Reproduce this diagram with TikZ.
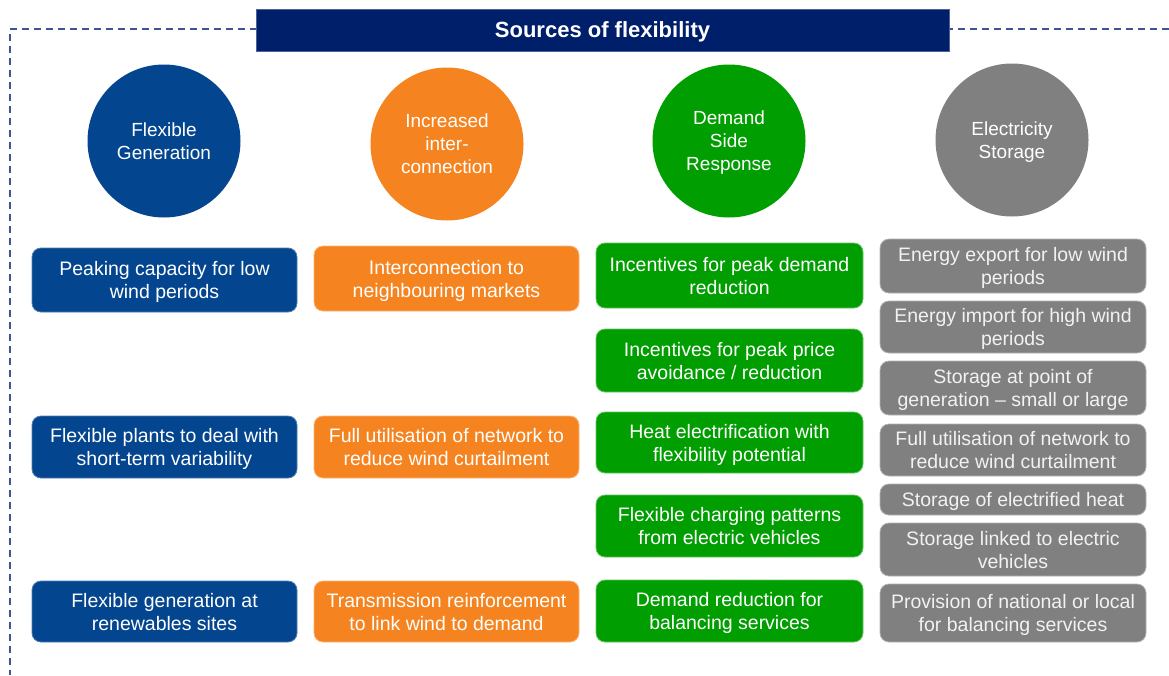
\documentclass[tikz,border=0pt]{standalone}
\usepackage{fontspec}
\setmainfont{Liberation Sans}
\definecolor{navy}{RGB}{0,31,107}
\definecolor{fblue}{RGB}{3,69,143}
\definecolor{forange}{RGB}{245,132,32}
\definecolor{fgreen}{RGB}{0,158,0}
\definecolor{fgrey}{RGB}{128,128,128}
\definecolor{dashc}{RGB}{64,82,152}
\tikzset{
  circ/.style={circle, minimum size=153pt, inner sep=0pt, text=white, align=center,
    font=\fontsize{19pt}{23pt}\selectfont, text depth=0pt},
  item/.style={rounded corners=9pt, minimum width=265pt, inner sep=0pt, text=white, align=center,
    font=\fontsize{19.5pt}{23pt}\selectfont, line width=0.8pt, text depth=0pt},
  bl/.style={item, fill=fblue, draw=fblue!70!white},
  org/.style={item, fill=forange, draw=forange!60!white},
  grn/.style={item, fill=fgreen, draw=fgreen!60!white, minimum width=267pt},
  gry/.style={item, fill=fgrey, draw=fgrey!60!white, minimum width=266pt, text=white!95!black},
}
\begin{document}
\begin{tikzpicture}[x=1pt,y=-1pt]
\useasboundingbox (0,0) rectangle (1169,675);
% dashed frame
\coordinate (fr) at (1169,29);
\coordinate (fc) at (10,29);
\coordinate (fb) at (10,675);
\draw[dashc, line width=1.6pt, dash pattern=on 7pt off 5pt] (fr) -- (fc) -- (fb);
% title
\node[fill=navy, draw=navy!70!white, line width=0.6pt, minimum width=693pt, minimum height=42pt, inner sep=0pt,
  text=white, font=\fontsize{22pt}{26pt}\selectfont\bfseries, text depth=0pt] (title) at (602.5,30) {Sources of flexibility};
% circles
\node[circ, fill=fblue] (c1) at (164,141) {Flexible\\Generation};
\node[circ, fill=forange] (c2) at (447,144) {Increased\\inter-\\connection};
\node[circ, fill=fgreen] (c3) at (729,141) {Demand\\Side\\Response};
\node[circ, fill=fgrey] (c4) at (1012,140) {Electricity\\Storage};
% column 1
\node[bl, minimum height=64pt] (a1) at (164.5,280) {Peaking capacity for low\\wind periods};
\node[bl, minimum height=62pt] (a2) at (164.5,447) {Flexible plants to deal with\\short-term variability};
\node[bl, minimum height=61pt] (a3) at (164.5,611.5) {Flexible generation at\\renewables sites};
% column 2
\node[org, minimum height=65pt] (b1) at (446.5,278.5) {Interconnection to\\neighbouring markets};
\node[org, minimum height=62pt] (b2) at (446.5,447) {Full utilisation of network to\\reduce wind curtailment};
\node[org, minimum height=61pt] (b3) at (446.5,611.5) {Transmission reinforcement\\to link wind to demand};
% column 3
\node[grn, minimum height=65pt] (d1) at (729.5,275.5) {Incentives for peak demand\\reduction};
\node[grn, minimum height=63pt] (d2) at (729.5,360.5) {Incentives for peak price\\avoidance / reduction};
\node[grn, minimum height=61pt] (d3) at (729.5,442.5) {Heat electrification with\\flexibility potential};
\node[grn, minimum height=62pt] (d4) at (729.5,526) {Flexible charging patterns\\from electric vehicles};
\node[grn, minimum height=62pt] (d5) at (729.5,611) {Demand reduction for\\balancing services};
% column 4
\node[gry, minimum height=54pt] (e1) at (1013,266) {Energy export for low wind\\periods};
\node[gry, minimum height=52pt] (e2) at (1013,327) {Energy import for high wind\\periods};
\node[gry, minimum height=54pt] (e3) at (1013,388) {Storage at point of\\generation -- small or large};
\node[gry, minimum height=52pt] (e4) at (1013,450) {Full utilisation of network to\\reduce wind curtailment};
\node[gry, minimum height=31pt] (e5) at (1013,499.5) {Storage of electrified heat};
\node[gry, minimum height=53pt] (e6) at (1013,549.5) {Storage linked to electric\\vehicles};
\node[gry, minimum height=58pt] (e7) at (1013,613) {Provision of national or local\\for balancing services};
\end{tikzpicture}
\end{document}
